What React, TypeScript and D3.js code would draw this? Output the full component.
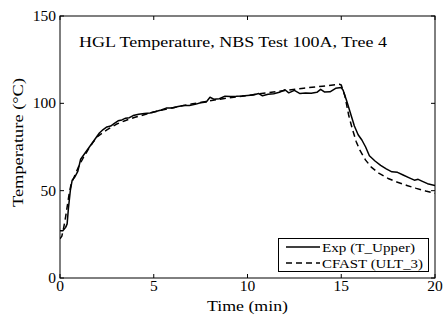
import React from "react";
import * as d3 from "d3";

const expTime = [0, 0.15, 0.3, 0.38, 0.45, 0.55, 0.65, 0.8, 0.95, 1.1, 1.3, 1.5, 1.7, 1.9, 2.1, 2.3, 2.5, 2.7, 2.9, 3.1, 3.3, 3.5, 3.7, 3.9, 4.2, 4.5, 4.8, 5.1, 5.4, 5.7, 6.0, 6.3, 6.6, 6.9, 7.2, 7.5, 7.8, 8.0, 8.2, 8.5, 8.8, 9.1, 9.4, 9.7, 10.0, 10.3, 10.6, 10.8, 11.1, 11.4, 11.7, 12.0, 12.2, 12.5, 12.8, 13.1, 13.4, 13.7, 13.9, 14.1, 14.4, 14.7, 15.0, 15.1, 15.3, 15.5, 15.7, 15.9, 16.1, 16.3, 16.5, 16.8, 17.1, 17.4, 17.7, 18.0, 18.3, 18.6, 18.9, 19.1, 19.3, 19.6, 20.0];
const expTemp = [27, 27, 29, 31, 40, 50, 56, 58, 61, 68, 71, 74, 77, 80, 83, 85, 86.5, 87, 88.5, 90, 90.5, 91.5, 91.8, 93, 93.8, 94.2, 94.5, 95.3, 96.2, 97.4, 97.3, 98.2, 98.8, 98.7, 99.4, 100.3, 100.8, 103.5, 102.4, 102.6, 104.1, 103.9, 104.0, 104.2, 104.5, 104.8, 105.6, 104.3, 105.2, 105.5, 106.3, 107.8, 106.0, 107.4, 105.6, 105.9, 105.8, 106.3, 108.0, 106.5, 106.6, 108.6, 109.0, 107.5, 101, 94, 87, 82, 79, 75, 70, 67, 64.5, 62.5, 60.8, 60.5, 59, 57.5, 56, 56.5, 55.5, 54, 53];

const cfastTime = [0, 0.1, 0.2, 0.3, 0.4, 0.5, 0.6, 0.8, 1.0, 1.25, 1.5, 1.75, 2.0, 2.5, 3.0, 3.5, 4.0, 5.0, 6.0, 7.0, 8.0, 9.0, 10.0, 11.0, 12.0, 13.0, 14.0, 14.9, 15.0, 15.2, 15.4, 15.6, 15.8, 16.0, 16.3, 16.6, 17.0, 17.5, 18.0, 18.5, 19.0, 19.5, 20.0];
const cfastTemp = [22.5, 24, 29, 35, 42, 49, 54, 59, 64, 69, 73.5, 77.5, 81, 84.8, 88, 90.2, 92, 95, 97.5, 99.6, 101.5, 103.1, 104.5, 106, 107.4, 108.7, 109.8, 110.9, 110.5, 104, 93, 85, 78, 73, 67.5, 63.5, 60, 57, 54.8, 53, 51.3, 49.8, 48.5];

const xTicks = [0, 5, 10, 15, 20];
const yTicks = [0, 50, 100, 150];
const titleText = "HGL Temperature, NBS Test 100A, Tree 4";
const xLabel = "Time (min)";
const yLabel = "Temperature (°C)";
const legendLabels = ["Exp (T_Upper)", "CFAST (ULT_3)"];

const W = 445, H = 320;
const L = 60, R = 435, T = 16, B = 278;
const font = "'Liberation Serif', 'Times New Roman', serif";

export default function App() {
  const x = d3.scaleLinear().domain([0, 20]).range([L, R]);
  const y = d3.scaleLinear().domain([0, 150]).range([B, T]);
  const line = d3.line<[number, number]>().x(d => x(d[0])).y(d => y(d[1]));
  const expPath = line(expTime.map((t, i) => [t, expTemp[i]]) as [number, number][]) || "";
  const cfPath = line(cfastTime.map((t, i) => [t, cfastTemp[i]]) as [number, number][]) || "";
  const tl = 4;
  return (
    <svg width={W} height={H} style={{ position: "absolute", left: 0, top: 0, background: "#fff" }} fontFamily={font}>
      <rect x={0} y={0} width={W} height={H} fill="#fff" />
      <defs>
        <clipPath id="clip"><rect x={L} y={T} width={R - L} height={B - T} /></clipPath>
      </defs>
      <g clipPath="url(#clip)" fill="none" stroke="#000" strokeWidth={1.5} strokeLinejoin="round">
        <path d={cfPath} strokeDasharray="6,4" />
        <path d={expPath} />
      </g>
      <rect x={L} y={T} width={R - L} height={B - T} fill="none" stroke="#000" strokeWidth={1} />
      {xTicks.map(v => (
        <g key={"x" + v}>
          <line x1={x(v)} x2={x(v)} y1={B} y2={B - tl} stroke="#000" />
          <line x1={x(v)} x2={x(v)} y1={T} y2={T + tl} stroke="#000" />
          <text x={x(v)} y={291} textAnchor="middle" fontSize={15.5}>{v}</text>
        </g>
      ))}
      {yTicks.map(v => (
        <g key={"y" + v}>
          <line x1={L} x2={L + tl} y1={y(v)} y2={y(v)} stroke="#000" />
          <line x1={R} x2={R - tl} y1={y(v)} y2={y(v)} stroke="#000" />
          <text x={56} y={y(v) + 5} textAnchor="end" fontSize={15.5}>{v}</text>
        </g>
      ))}
      <text x={79} y={47} fontSize={15} textLength={308} lengthAdjust="spacingAndGlyphs">{titleText}</text>
      <text x={207} y={311} fontSize={15.5} textLength={81} lengthAdjust="spacingAndGlyphs">{xLabel}</text>
      <text transform="translate(23,207) rotate(-90)" fontSize={15.5} textLength={129} lengthAdjust="spacingAndGlyphs">{yLabel}</text>
      <rect x={278.5} y={238.5} width={150} height={33} fill="#fff" stroke="#000" strokeWidth={1} />
      <line x1={286} x2={320} y1={247} y2={247} stroke="#000" strokeWidth={1.5} />
      <line x1={286} x2={320} y1={263} y2={263} stroke="#000" strokeWidth={1.5} strokeDasharray="6,4" />
      <text x={322} y={251.5} fontSize={13.5} textLength={93} lengthAdjust="spacingAndGlyphs">{legendLabels[0]}</text>
      <text x={322} y={267.5} fontSize={13.5} textLength={101} lengthAdjust="spacingAndGlyphs">{legendLabels[1]}</text>
    </svg>
  );
}
